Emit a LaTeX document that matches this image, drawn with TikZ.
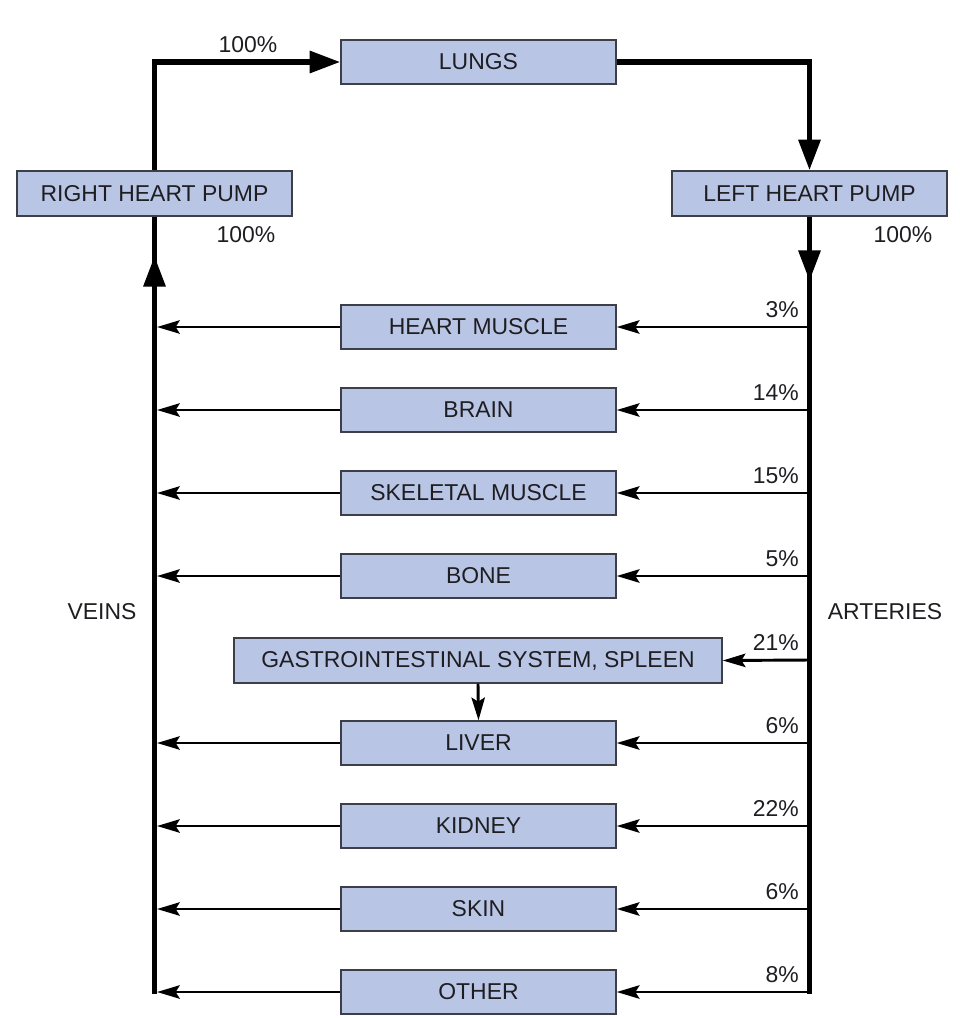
\documentclass[tikz,border=0pt]{standalone}
\usepackage{fontspec}
\setmainfont{Liberation Sans}
\usetikzlibrary{arrows.meta}
\definecolor{boxfill}{RGB}{185,197,228}
\definecolor{boxline}{RGB}{60,62,72}
\definecolor{txt}{RGB}{30,30,34}
\begin{document}
\begin{tikzpicture}[x=0.75pt,y=-0.75pt,
  box/.style={draw=boxline, line width=1.1pt, fill=boxfill, minimum width=206.25pt,
    minimum height=33pt, inner sep=0pt, font=\fontsize{17.2}{20}\selectfont, text=txt},
  lbl/.style={font=\fontsize{17.2}{20}\selectfont, text=txt, inner sep=0pt},
  pct/.style={lbl, anchor=base east},
  main/.style={line width=4pt, draw=black},
  flow/.style={line width=2.2pt, draw=black},
  bigtip/.style={-{Triangle[length=23pt,width=16pt]}},
  smalltip/.style={-{Stealth[length=17pt,width=10pt,inset=3pt]}}]
\useasboundingbox (0,0) rectangle (960,1018);

% main boxes
\node[box] (lungs) at (478.5,62) {LUNGS};
\node[box, minimum height=33.75pt] (rhp) at (154.5,193.5) {RIGHT HEART PUMP};
\node[box, minimum height=33.75pt] (lhp) at (809.5,193.5) {LEFT HEART PUMP};

% percentages at pumps
\node[lbl, anchor=base] (p100a) at (248,52) {100\%};
\node[lbl, anchor=base] (p100b) at (246,242) {100\%};
\node[lbl, anchor=base] (p100c) at (903,242) {100\%};

% vein / artery labels
\node[lbl] (veins) at (102,612) {VEINS};
\node[lbl] (arteries) at (885,612) {ARTERIES};

% main circuit
\draw[main, bigtip] (rhp.north) |- (lungs.west);
\draw[main, bigtip] (lungs.east) -| (lhp.north);

\coordinate (ra) at (809.5,281);
\coordinate (rb) at (809.5,994);
\coordinate (va) at (154.5,256);
\coordinate (vb) at (154.5,994);
\draw[main] (lhp.south) -- (rb);
\draw[main, bigtip] (lhp.south) -- (ra);
\draw[main] (vb) -- (rhp.south);
\draw[main, bigtip] (vb) -- (va);

% organ rows
\foreach \i/\y/\t/\p in {1/327/HEART MUSCLE/3, 2/410/BRAIN/14, 3/493/SKELETAL MUSCLE/15,
  4/576/BONE/5, 6/743/LIVER/6, 7/826/KIDNEY/22, 8/909/SKIN/6, 9/992/OTHER/8}{
  \node[box] (o\i) at (478.5,\y) {\t};
  \coordinate (a\i) at (809.5,\y);
  \coordinate (v\i) at (157,\y);
  \draw[flow, smalltip] (a\i) -- (o\i.east);
  \draw[flow, smalltip] (o\i.west) -- (v\i);
  \node[pct] (p\i) at (799,\y-10) {\p\%};
}

% GI system
\node[box, minimum width=366pt, minimum height=33.75pt] (gi) at (478,660.5) {GASTROINTESTINAL SYSTEM, SPLEEN};
\coordinate (a5) at (809.5,660);
\draw[flow, smalltip] (a5) -- (gi.east);
\node[pct] (p5) at (799,650) {21\%};
\draw[flow, smalltip] (gi.south) -- (o6.north);
\end{tikzpicture}
\end{document}
